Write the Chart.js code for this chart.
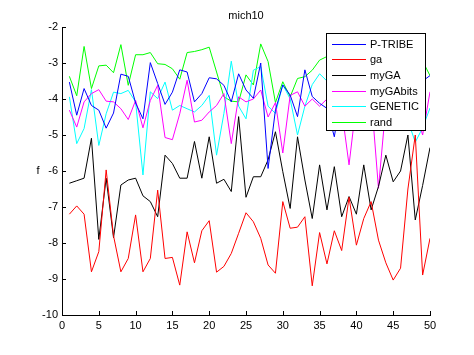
<!DOCTYPE html>
<html>
<head>
<meta charset="utf-8">
<script src="https://cdn.jsdelivr.net/npm/chart.js@4/dist/chart.umd.min.js"></script>
<style>
html,body{margin:0;padding:0;background:#fff;}
canvas{display:block;}
</style>
</head>
<body>
<canvas id="c" width="474" height="355"></canvas>
<script>
const iterations = [1,2,3,4,5,6,7,8,9,10,11,12,13,14,15,16,17,18,19,20,21,22,23,24,25,26,27,28,29,30,31,32,33,34,35,36,37,38,39,40,41,42,43,44,45,46,47,48,49,50];

const pTribe = [-3.53,-4.45,-3.71,-4.18,-4.31,-4.81,-4.39,-3.31,-3.37,-4.11,-4.55,-2.99,-3.57,-4.15,-3.81,-3.19,-3.25,-4.08,-3.85,-3.41,-3.44,-3.62,-4.08,-3.30,-3.75,-3.98,-3.00,-5.93,-4.30,-3.61,-3.89,-4.49,-3.19,-3.93,-4.12,-4.26,-5.05,-3.80,-4.20,-3.60,-4.00,-3.50,-4.30,-3.90,-3.40,-4.10,-3.70,-4.00,-3.50,-3.35];

const ga = [-7.20,-6.97,-7.20,-8.80,-8.24,-5.97,-7.80,-8.80,-8.43,-7.22,-8.80,-8.43,-6.53,-8.43,-8.40,-9.17,-7.69,-8.55,-7.66,-7.38,-8.81,-8.65,-8.29,-7.73,-7.16,-7.41,-7.87,-8.61,-8.84,-6.85,-7.59,-7.56,-7.27,-9.19,-7.71,-8.58,-7.66,-8.21,-6.73,-8.06,-7.32,-6.85,-7.92,-8.55,-9.03,-8.70,-6.50,-5.00,-8.89,-7.87];

const myGA = [-6.34,-6.27,-6.20,-5.09,-7.90,-6.20,-7.85,-6.39,-6.25,-6.20,-6.69,-6.85,-7.27,-5.56,-5.79,-6.20,-6.20,-5.18,-6.20,-5.05,-6.34,-6.23,-6.57,-4.49,-6.73,-6.16,-6.16,-5.69,-4.91,-6.02,-7.04,-5.05,-6.25,-7.32,-5.83,-7.08,-5.88,-7.27,-6.71,-7.20,-5.83,-7.08,-6.43,-5.56,-6.30,-6.00,-5.00,-7.36,-6.40,-5.35];

const myGAbits = [-4.31,-4.78,-4.08,-3.85,-3.74,-4.06,-4.08,-4.27,-4.57,-4.04,-4.80,-4.04,-3.62,-5.07,-5.13,-4.41,-3.48,-4.64,-4.59,-4.36,-4.18,-3.85,-5.24,-3.94,-4.08,-4.00,-3.75,-4.50,-4.10,-5.50,-3.90,-3.80,-4.20,-4.00,-4.20,-4.00,-4.00,-4.30,-5.83,-4.10,-4.40,-3.90,-6.48,-4.20,-4.00,-4.50,-4.10,-4.30,-5.00,-3.80];

const genetic = [-3.94,-5.24,-4.82,-3.74,-5.29,-4.41,-3.81,-3.85,-3.76,-4.08,-6.11,-3.80,-3.99,-3.53,-4.31,-4.18,-4.27,-4.36,-4.18,-3.90,-5.56,-4.40,-2.95,-4.20,-4.55,-3.20,-3.10,-4.20,-4.40,-3.60,-4.00,-5.00,-4.20,-3.60,-3.30,-3.50,-3.80,-4.40,-3.60,-4.20,-3.90,-4.50,-3.70,-4.00,-3.50,-4.30,-4.60,-5.20,-4.80,-4.25];

const rand = [-3.37,-3.91,-2.54,-3.71,-3.08,-3.06,-3.27,-2.49,-3.62,-2.77,-2.77,-2.71,-3.02,-3.04,-3.16,-3.45,-2.71,-2.68,-2.63,-2.56,-3.25,-3.94,-4.06,-4.08,-3.33,-3.61,-2.47,-2.96,-4.10,-3.52,-3.94,-3.43,-3.38,-3.20,-2.92,-2.82,-3.00,-2.70,-3.20,-2.90,-3.40,-2.80,-3.10,-2.60,-3.30,-2.90,-3.50,-3.10,-2.95,-3.35];

const seriesNames = ['P-TRIBE','ga','myGA','myGAbits','GENETIC','rand'];
const seriesValues = [pTribe, ga, myGA, myGAbits, genetic, rand];
const seriesColors = ['#0000ff','#ff0000','#000000','#ff00ff','#00ffff','#00ff00'];

const xTicks = [0,5,10,15,20,25,30,35,40,45,50];
const yTicks = [-10,-9,-8,-7,-6,-5,-4,-3,-2];
const chartTitle = 'mich10';
const yLabel = 'f';

const FONT = 'Liberation Sans, Arial, Helvetica, sans-serif';

const datasets = seriesValues.map((vals, i) => ({
  label: seriesNames[i],
  data: vals.map((v, j) => ({x: iterations[j], y: v})),
  borderColor: seriesColors[i],
  backgroundColor: seriesColors[i],
  borderWidth: 1,
  pointRadius: 0,
  tension: 0,
  fill: false
}));

const decorPlugin = {
  id: 'decor',
  afterDatasetsDraw(chart) {
    const ctx = chart.ctx;
    const xs = chart.scales.x, ys = chart.scales.y;
    const area = chart.chartArea;
    ctx.save();
    // inward ticks
    ctx.strokeStyle = '#000';
    ctx.lineWidth = 1;
    ctx.beginPath();
    xTicks.forEach(t => {
      const px = Math.round(xs.getPixelForValue(t)) + 0.5;
      ctx.moveTo(px, area.bottom);
      ctx.lineTo(px, area.bottom - 4);
    });
    yTicks.forEach(t => {
      const py = Math.round(ys.getPixelForValue(t)) + 0.5;
      ctx.moveTo(area.left, py);
      ctx.lineTo(area.left + 4, py);
    });
    ctx.stroke();

    // legend box
    const lx = 326.5, ly = 33.5, lw = 99, lh = 97;
    ctx.fillStyle = '#fff';
    ctx.fillRect(lx, ly, lw, lh);
    ctx.strokeStyle = '#000';
    ctx.strokeRect(lx, ly, lw, lh);
    ctx.font = '11px ' + FONT;
    ctx.textBaseline = 'middle';
    ctx.textAlign = 'left';
    seriesNames.forEach((name, i) => {
      const y = Math.round(43.5 + i * 15.7) + 0.5;
      ctx.strokeStyle = seriesColors[i];
      ctx.beginPath();
      ctx.moveTo(332, y);
      ctx.lineTo(366, y);
      ctx.stroke();
      ctx.fillStyle = '#000';
      ctx.fillText(name, 370, y);
    });

    // title
    ctx.font = '11px ' + FONT;
    ctx.textAlign = 'center';
    ctx.textBaseline = 'middle';
    ctx.fillStyle = '#000';
    ctx.fillText(chartTitle, (area.left + area.right) / 2, 16);

    // y label
    ctx.fillText(yLabel, 38, (area.top + area.bottom) / 2);
    ctx.restore();
  }
};

new Chart(document.getElementById('c'), {
  type: 'line',
  data: { datasets },
  options: {
    responsive: false,
    animation: false,
    layout: { padding: { top: 27, right: 44, left: 0, bottom: 0 } },
    plugins: { legend: { display: false }, title: { display: false }, tooltip: { enabled: false } },
    scales: {
      x: {
        type: 'linear',
        min: 0, max: 50,
        afterBuildTicks(scale) { scale.ticks = xTicks.map(v => ({value: v})); },
        afterFit(scale) { scale.height = 40; },
        grid: { display: false, drawTicks: false },
        border: { display: true, color: '#000', width: 1 },
        ticks: { color: '#000', font: { family: FONT, size: 11 }, padding: 4, maxRotation: 0, autoSkip: false }
      },
      y: {
        type: 'linear',
        min: -10, max: -2,
        afterBuildTicks(scale) { scale.ticks = yTicks.map(v => ({value: v})); },
        afterFit(scale) { scale.width = 62; },
        grid: { display: false, drawTicks: false },
        border: { display: true, color: '#000', width: 1 },
        ticks: { color: '#000', font: { family: FONT, size: 11 }, padding: 4, autoSkip: false }
      }
    }
  },
  plugins: [decorPlugin]
});
</script>
</body>
</html>
